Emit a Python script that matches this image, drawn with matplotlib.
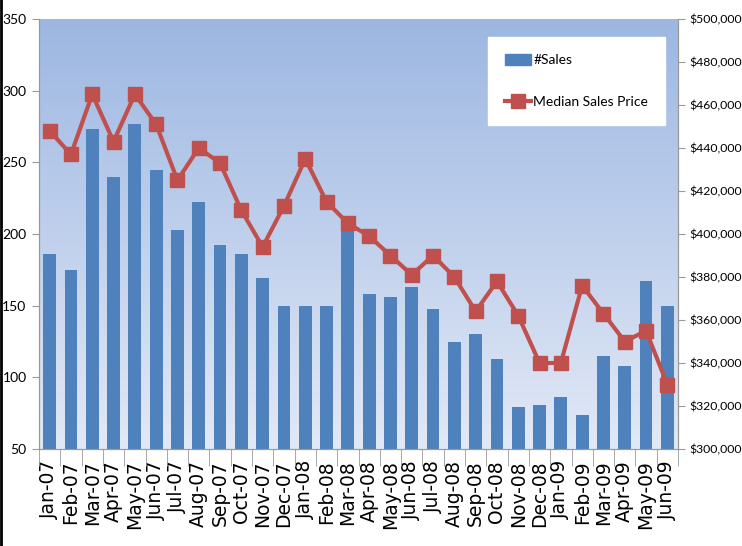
import numpy as np
import matplotlib
matplotlib.use("Agg")
import matplotlib.pyplot as plt
from matplotlib.ticker import FuncFormatter, MultipleLocator
from matplotlib.lines import Line2D
from matplotlib.patches import Patch

months = ["Jan-07", "Feb-07", "Mar-07", "Apr-07", "May-07", "Jun-07", "Jul-07", "Aug-07",
          "Sep-07", "Oct-07", "Nov-07", "Dec-07", "Jan-08", "Feb-08", "Mar-08", "Apr-08",
          "May-08", "Jun-08", "Jul-08", "Aug-08", "Sep-08", "Oct-08", "Nov-08", "Dec-08",
          "Jan-09", "Feb-09", "Mar-09", "Apr-09", "May-09", "Jun-09"]
sales = [186, 175, 273, 240, 277, 245, 203, 222, 192, 186, 169, 150, 150, 150, 204,
         158, 156, 163, 148, 125, 130, 113, 79, 81, 86, 74, 115, 108, 167, 150]
median_price = [448000, 437000, 465000, 443000, 465000, 451000, 425000, 440000, 433000,
                411000, 394000, 413000, 435000, 415000, 405000, 399000, 390000, 381000,
                390000, 380000, 364000, 378000, 362000, 340000, 340000, 376000, 363000,
                350000, 355000, 330000]

bar_color = "#4F81BD"
line_color = "#C0504D"
narrow = ["Lato", "DejaVu Sans"]

fig = plt.figure(figsize=(7.42, 5.46), dpi=100)
ax = fig.add_axes([39 / 742, 1 - 449 / 546, (678 - 39) / 742, (449 - 19) / 546])

# gradient background
grad = np.linspace(0, 1, 256).reshape(-1, 1)
top = np.array([157, 183, 226]) / 255
bot = np.array([226, 233, 246]) / 255
img = top + (bot - top) * grad[..., None]
ax.imshow(img, extent=[0, 1, 0, 1], transform=ax.transAxes, aspect="auto", zorder=0)

x = np.arange(len(months))
ax.bar(x, np.array(sales) - 50, bottom=50, width=0.6, color=bar_color, zorder=2)
ax.set_xlim(-0.5, len(months) - 0.5)
ax.set_ylim(50, 350)
ax.yaxis.set_major_locator(MultipleLocator(50))
ax.set_xticks(x)
ax.set_xticklabels(months, rotation=90, fontsize=13.5, family="DejaVu Sans")
ax.set_xticks(np.arange(-0.5, len(months), 1), minor=True)
ax.tick_params(axis="x", which="major", length=0, pad=8)
ax.tick_params(axis="x", which="minor", length=12, color="#999999")
ax.tick_params(axis="y", length=5, color="#999999", pad=4)
for t in ax.get_yticklabels():
    t.set_family(narrow)
    t.set_fontsize(10)

ax2 = ax.twinx()
ax2.plot(x, median_price, color=line_color, lw=3, marker="s", markersize=10.5, zorder=3)
ax2.set_ylim(300000, 500000)
ax2.yaxis.set_major_locator(MultipleLocator(20000))
ax2.yaxis.set_major_formatter(FuncFormatter(lambda v, p: "${:,.0f}".format(v)))
ax2.tick_params(axis="y", length=5, color="#999999", pad=3)
for t in ax2.get_yticklabels():
    t.set_family(narrow)
    t.set_fontsize(8.8)

for a in (ax, ax2):
    for s in a.spines.values():
        s.set_color("#999999")
    a.spines["top"].set_visible(False)

handles = [Patch(color=bar_color),
           Line2D([0], [0], color=line_color, lw=3, marker="s", markersize=10.5)]
leg = ax2.legend(handles, ["#Sales", "Median Sales Price"], loc="upper right",
                 bbox_to_anchor=(1 - 13 / 639, 1 - 18 / 430), frameon=True, fancybox=False,
                 prop={"family": narrow, "size": 10}, labelspacing=2.1,
                 borderpad=1.2, handlelength=1.9, handleheight=0.9,
                 handletextpad=0.15, borderaxespad=0)
leg.get_frame().set_edgecolor("white")
leg.get_frame().set_facecolor("white")
leg.get_frame().set_alpha(1)

fig.add_artist(Line2D([0.002, 0.002], [0, 1], color="black", lw=2, transform=fig.transFigure))

fig.savefig("out.png", dpi=100)
